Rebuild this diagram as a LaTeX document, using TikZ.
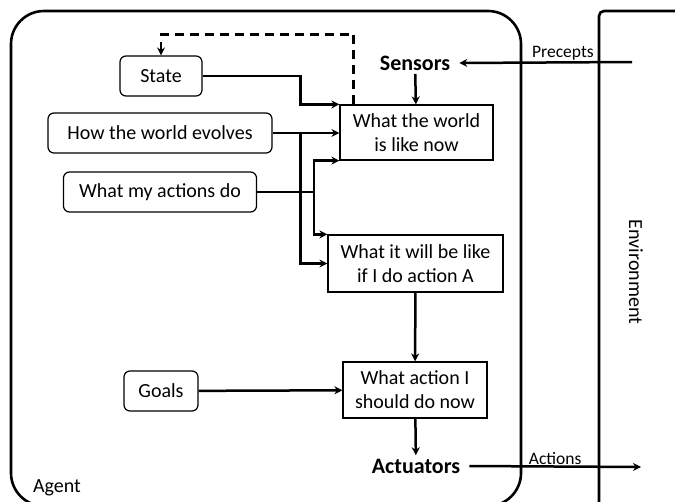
\documentclass[tikz,border=0pt]{standalone}
\usepackage{fontspec}
\setmainfont{Carlito}
\usetikzlibrary{arrows.meta}

\begin{document}
\begin{tikzpicture}[x=1pt, y=-1pt,
		box/.style={draw, rectangle, line width=1.2pt, align=center, font=\fontsize{20}{24}\selectfont, inner sep=0pt},
		rbox/.style={box, rounded corners=6pt},
		wire/.style={->, >={Stealth[length=8pt, width=8pt]}, line width=2.5pt},
		tag/.style={font=\fontsize{17.5}{20}\selectfont, inner sep=1pt},
		bold/.style={font=\fontsize{22}{26}\selectfont\bfseries, inner xsep=9pt}]
				\useasboundingbox (0,0) rectangle (675,501);
				\draw[line width=2.6pt, rounded corners=33pt] (11,11) rectangle (521,506);
				\draw[line width=2.6pt, rounded corners=5pt] (599,525) -- (599,11) -- (700,11);
				\node[rbox, minimum width=82pt, minimum height=40pt] (state)at(161, 76) {State};
				\node[rbox, minimum width=224pt, minimum height=40pt] (evolves)at(160, 133) {How the world evolves};
				\node[rbox, minimum width=193pt, minimum height=40pt] (actdo)at(160, 192) {What my actions do};
				\node[rbox, minimum width=74pt, minimum height=40pt] (goals)at(161, 391) {Goals};
				\node[box, minimum width=153pt, minimum height=55pt] (now)at(416.5, 132.5) {What the world\\is like now};
				\node[box, minimum width=175pt, minimum height=57pt] (future)at(415.5, 263.5) {What it will be like\\if I do action A};
				\node[box, minimum width=144pt, minimum height=56pt] (decide)at(415, 390) {What action I\\should do now};
				\node[bold] (sensors)at(415, 63) {Sensors};
				\node[bold] (actuators)at(416, 466) {Actuators};
				\node[font=\fontsize{20}{24}\selectfont] (agent)at(57, 488) {Agent};
				\node[font=\fontsize{20}{24}\selectfont, rotate=-90] (env)at(636, 272) {Environment};
				\coordinate (percin)at(632, 62);
				\coordinate (actout)at(641, 467);
				\coordinate (split)at(314, 192);
				\draw[wire] (percin) -- (sensors.east) node[tag, pos=0.4, above] {Precepts};
				\draw[wire] (actuators.east) -- (actout) node[tag, pos=0.5, above] {Actions};
				\draw[wire] (sensors) -- (now);
				\draw[wire] (state.east) -- ++(98,0) |- (now.north west);
				\draw[wire] (evolves.east) -- (evolves.east -| now.west);
				\draw[wire] (evolves.east) ++(28,0) |- (future.west);
				\draw[line width=2.5pt] (actdo.east) -- (split);
				\draw[wire] (split) |- (now.south west);
				\draw[wire] (split) |- (future.north west);
				\draw[wire] (future) -- (decide);
				\draw[wire] (goals) -- (decide);
				\draw[wire] (decide) -- (actuators);
				\draw[wire, dash pattern=on 9pt off 6pt] ([xshift=-63pt]now.north) -- ++(0,-70) -| (state.north);
			\end{tikzpicture}
\end{document}
